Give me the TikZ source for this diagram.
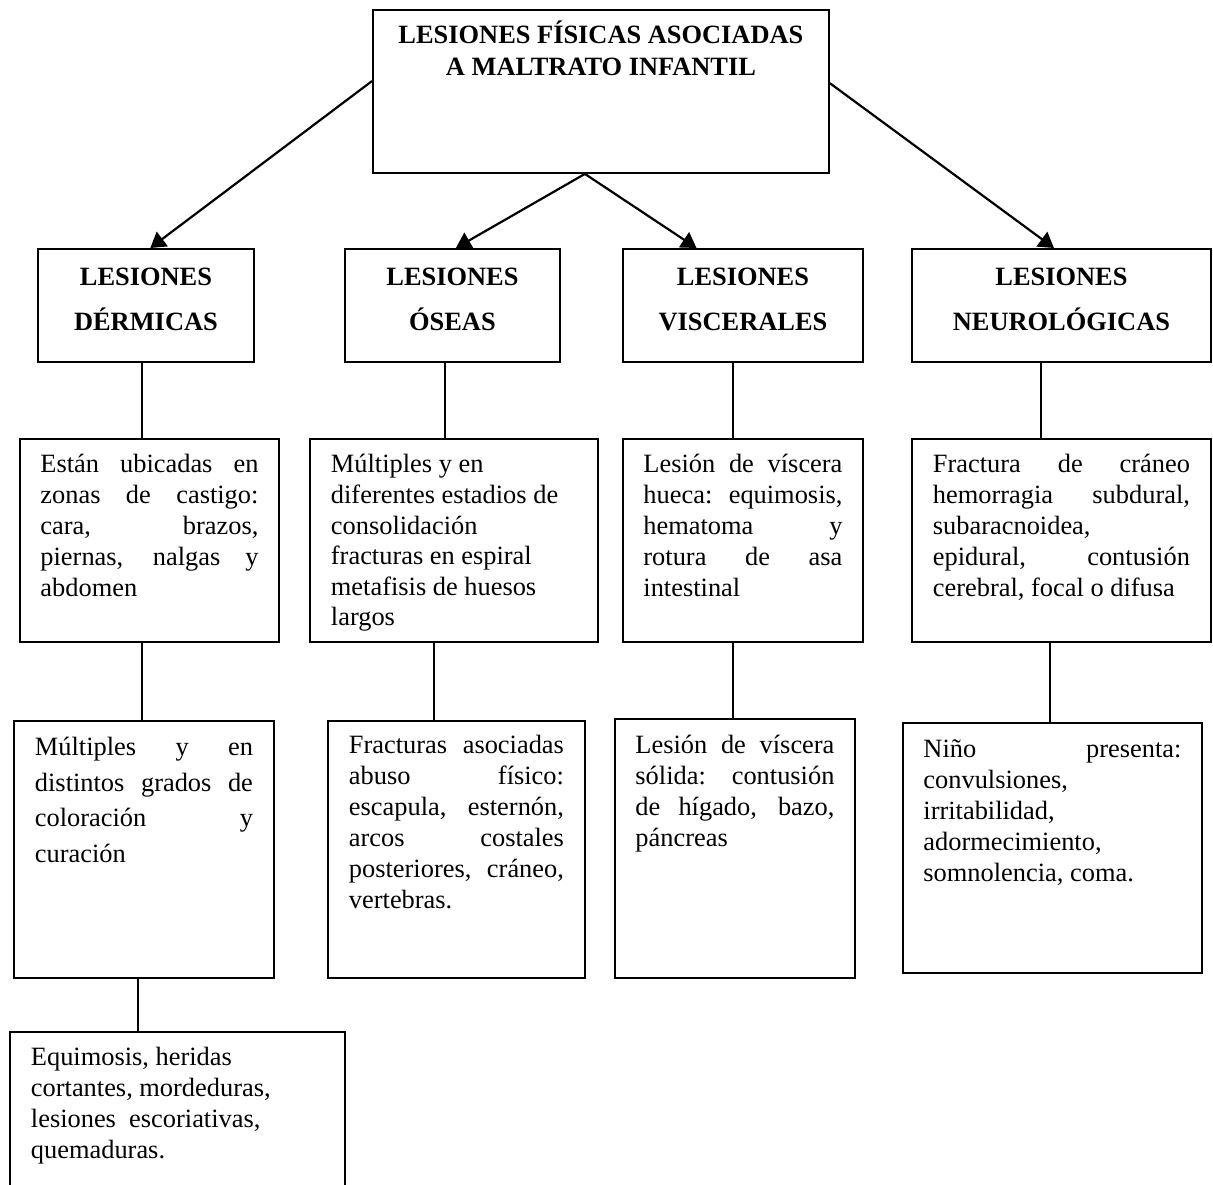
\documentclass[tikz,border=0pt]{standalone}
\usepackage{fontspec}
\setmainfont{Liberation Serif}
\usetikzlibrary{arrows.meta,calc}
\newcommand\jl[1]{\makebox[\linewidth][s]{#1}}
% body text box: height, width, baselineskip, first-baseline offset, text
\newcommand\bt[5]{\parbox[c][#1][t]{#2}{\fontsize{26.4}{#3}\selectfont\rule{0pt}{#4}#5}}
% heading box: width, line1, line2
\newcommand\hd[3]{\parbox[c][113pt][t]{#1}{\centering\bfseries\fontsize{26.4}{45}\selectfont\rule{0pt}{37pt}#2\\#3}}
\begin{document}
\begin{tikzpicture}[x=1pt,y=-1pt,
  box/.style={draw,line width=1.9pt,rectangle,inner ysep=0pt,anchor=north west},
  conn/.style={line width=1.7pt},
  arr/.style={line width=2.2pt,-{Triangle[length=15pt,width=18pt]}}]
\useasboundingbox (0,0) rectangle (1213,1184);
\fill[white] (0,0) rectangle (1213,1184);

% title
\node[box,inner xsep=0pt] (top) at (372,9) {\parbox[c][163pt][t]{456pt}{\centering\bfseries\fontsize{26.4}{32}\selectfont\rule{0pt}{34pt}LESIONES FÍSICAS ASOCIADAS\\A MALTRATO INFANTIL}};

% level 1
\node[box,inner xsep=0pt] (d1) at (37,248) {\hd{216pt}{LESIONES}{DÉRMICAS}};
\node[box,inner xsep=0pt] (o1) at (344,248) {\hd{215pt}{LESIONES}{ÓSEAS}};
\node[box,inner xsep=0pt] (v1) at (622,248) {\hd{240pt}{LESIONES}{VISCERALES}};
\node[box,inner xsep=0pt] (n1) at (911,248) {\hd{299pt}{LESIONES}{NEUROLÓGICAS}};

% level 2
\node[box,inner xsep=20.5pt] (d2) at (19,438) {\bt{203pt}{218pt}{31pt}{34pt}{%
\jl{Están ubicadas en}\\\jl{zonas de castigo:}\\\jl{cara, brazos,}\\\jl{piernas, nalgas y}\\abdomen}};
\node[box,inner xsep=21pt] (o2) at (309,438) {\bt{203pt}{246pt}{30.6pt}{34pt}{%
Múltiples y en\\diferentes estadios de\\consolidación\\fracturas en espiral\\metafisis de huesos\\largos}};
\node[box,inner xsep=20.5pt] (v2) at (622,438) {\bt{203pt}{199pt}{31pt}{34pt}{%
\jl{Lesión de víscera}\\\jl{hueca: equimosis,}\\\jl{hematoma y}\\\jl{rotura de asa}\\intestinal}};
\node[box,inner xsep=21pt] (n2) at (911,438) {\bt{203pt}{257pt}{31pt}{34pt}{%
\jl{Fractura de cráneo}\\\jl{hemorragia subdural,}\\subaracnoidea,\\\jl{epidural, contusión}\\cerebral, focal o difusa}};

% level 3
\node[box,inner xsep=21pt] (d3) at (13,720) {\bt{257pt}{218pt}{35.5pt}{35pt}{%
\jl{Múltiples y en}\\\jl{distintos grados de}\\\jl{coloración y}\\curación}};
\node[box,inner xsep=21pt] (o3) at (327,720) {\bt{257pt}{215pt}{31pt}{33pt}{%
\jl{Fracturas asociadas}\\\jl{abuso físico:}\\\jl{escapula, esternón,}\\\jl{arcos costales}\\\jl{posteriores, cráneo,}\\vertebras.}};
\node[box,inner xsep=20.5pt] (v3) at (614,718) {\bt{259pt}{199pt}{31pt}{35pt}{%
\jl{Lesión de víscera}\\\jl{sólida: contusión}\\\jl{de hígado, bazo,}\\páncreas}};
\node[box,inner xsep=20.5pt] (n3) at (902,722) {\bt{250pt}{258pt}{30.8pt}{35pt}{%
\jl{Niño presenta:}\\convulsiones,\\irritabilidad,\\adormecimiento,\\somnolencia, coma.}};

% level 4
\node[box,inner xsep=21pt] (d4) at (9,1031) {\bt{170pt}{293pt}{30.7pt}{34pt}{%
Equimosis, heridas\\cortantes, mordeduras,\\lesiones\ \ escoriativas,\\quemaduras.}};

% arrows
\draw[arr] ($(top.north west)!0.437!(top.south west)$) -- ($(d1.north west)!0.52!(d1.north east)$);
\coordinate (split) at ($(top.south west)!0.465!(top.south east)$);
\draw[arr] (split) -- ($(o1.north west)!0.516!(o1.north east)$);
\draw[arr] (split) -- ($(v1.north west)!0.308!(v1.north east)$);
\draw[arr] ($(top.north east)!0.45!(top.south east)$) -- ($(n1.north west)!0.475!(n1.north east)$);

% vertical connectors
\coordinate (xd) at (142,0);
\coordinate (xd4) at (138,0);
\coordinate (xo1) at (445,0);
\coordinate (xo2) at (434,0);
\coordinate (xv) at (733,0);
\coordinate (xn1) at (1041,0);
\coordinate (xn2) at (1050,0);
\draw[conn] (xd |- d1.south) -- (xd |- d2.north);
\draw[conn] (xd |- d2.south) -- (xd |- d3.north);
\draw[conn] (xd4 |- d3.south) -- (xd4 |- d4.north);
\draw[conn] (xo1 |- o1.south) -- (xo1 |- o2.north);
\draw[conn] (xo2 |- o2.south) -- (xo2 |- o3.north);
\draw[conn] (xv |- v1.south) -- (xv |- v2.north);
\draw[conn] (xv |- v2.south) -- (xv |- v3.north);
\draw[conn] (xn1 |- n1.south) -- (xn1 |- n2.north);
\draw[conn] (xn2 |- n2.south) -- (xn2 |- n3.north);
\end{tikzpicture}
\end{document}
